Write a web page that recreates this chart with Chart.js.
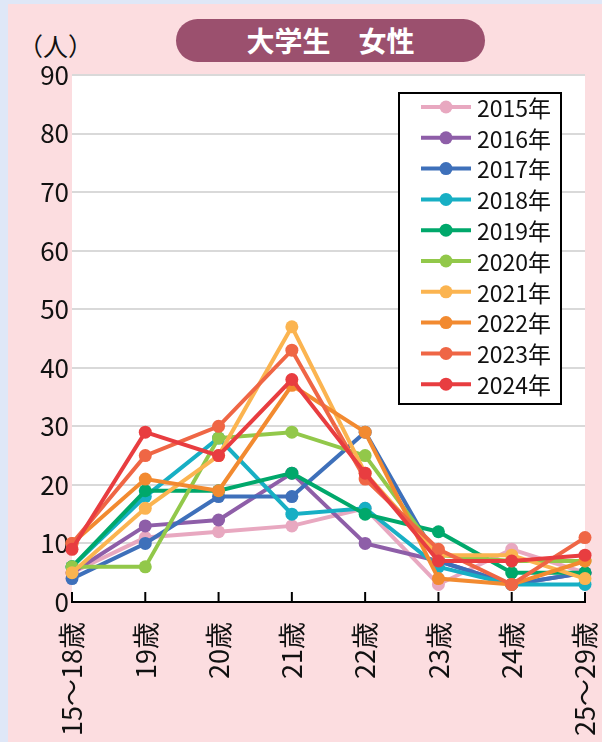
<!DOCTYPE html>
<html>
<head>
<meta charset="utf-8">
<script src="https://cdn.jsdelivr.net/npm/chart.js@4.4.1/dist/chart.umd.min.js"></script>
<style>
  html, body { margin: 0; padding: 0; background: #dfe7f7; }
  #panel { position: absolute; left: 8px; top: 4px; width: 594px; height: 738px; background: #fcdde0; }
  #title { position: absolute; left: 176px; top: 19px; width: 309px; height: 43px; border-radius: 22px;
           background: #9b506e; color: #fff; font: bold 28px "Noto Sans CJK JP", sans-serif;
           text-align: center; line-height: 43px; }
  #unit { position: absolute; left: 18px; top: 27px; font: 25px "Noto Sans CJK JP", sans-serif; color: #111; }
  canvas { position: absolute; left: 0; top: 0; }
</style>
</head>
<body>
<div id="panel"></div>
<div id="title">大学生　女性</div>
<div id="unit">（人）</div>
<canvas id="chart" width="602" height="742"></canvas>
<script>
// Categories and series (人)
const ages = ['15～18歳', '19歳', '20歳', '21歳', '22歳', '23歳', '24歳', '25～29歳'];
const yearLabels = ['2015年', '2016年', '2017年', '2018年', '2019年', '2020年', '2021年', '2022年', '2023年', '2024年'];
const y2015 = [5, 11, 12, 13, 16, 3, 9, 5];
const y2016 = [5, 13, 14, 22, 10, 7, 3, 5];
const y2017 = [4, 10, 18, 18, 29, 7, 3, 5];
const y2018 = [6, 18, 28, 15, 16, 6, 3, 3];
const y2019 = [6, 19, 19, 22, 15, 12, 5, 5];
const y2020 = [6, 6, 28, 29, 25, 8, 7, 7];
const y2021 = [5, 16, 25, 47, 22, 8, 8, 4];
const y2022 = [10, 21, 19, 37, 29, 4, 3, 7];
const y2023 = [10, 25, 30, 43, 21, 9, 3, 11];
const y2024 = [9, 29, 25, 38, 22, 7, 7, 8];
const yTicks = [0, 10, 20, 30, 40, 50, 60, 70, 80, 90];

const seriesData = [y2015, y2016, y2017, y2018, y2019, y2020, y2021, y2022, y2023, y2024];
const colors = ['#e8a8c0', '#8e5ea8', '#3e70ba', '#17afc4', '#00a86b', '#92c84a', '#fbb450', '#f28a30', '#ef6645', '#e83d40'];
const FONT = '"Noto Sans CJK JP", sans-serif';

// white plot background + inward tick marks on x axis
const plotBack = {
    id: 'plotBack',
    beforeDraw(chart) {
        const { ctx, chartArea: a } = chart;
        ctx.save();
        ctx.fillStyle = '#ffffff';
        ctx.fillRect(a.left, a.top, a.right - a.left, a.bottom - a.top);
        ctx.restore();
    },
    afterDatasetsDraw(chart) {
        const { ctx, chartArea: a, scales } = chart;
        ctx.save();
        ctx.strokeStyle = '#000';
        ctx.lineWidth = 2;
        ages.forEach((_, i) => {
            const x = scales.x.getPixelForTick(i);
            ctx.beginPath();
            ctx.moveTo(x, a.bottom);
            ctx.lineTo(x, a.bottom - 10);
            ctx.stroke();
        });
        ctx.restore();
    }
};

// boxed legend inside the plot
const boxLegend = {
    id: 'boxLegend',
    afterDraw(chart) {
        const { ctx } = chart;
        const left = 399, top = 93, w = 162, h = 311, row = 30.8;
        ctx.save();
        ctx.fillStyle = '#fff';
        ctx.fillRect(left, top, w, h);
        ctx.strokeStyle = '#000';
        ctx.lineWidth = 2;
        ctx.strokeRect(left, top, w, h);
        chart.data.datasets.forEach((ds, i) => {
            const y = top + 14 + row * i;
            ctx.strokeStyle = ds.borderColor;
            ctx.lineWidth = 4;
            ctx.beginPath();
            ctx.moveTo(421, y);
            ctx.lineTo(471, y);
            ctx.stroke();
            ctx.fillStyle = ds.borderColor;
            ctx.beginPath();
            ctx.arc(446, y, 6.5, 0, Math.PI * 2);
            ctx.fill();
            ctx.fillStyle = '#111';
            ctx.font = '23px ' + FONT;
            ctx.textBaseline = 'middle';
            ctx.fillText(ds.label, 477, y + 1);
        });
        ctx.restore();
    }
};

const ctx = document.getElementById('chart').getContext('2d');
new Chart(ctx, {
    type: 'line',
    data: {
        labels: ages,
        datasets: seriesData.map((d, i) => ({
            label: yearLabels[i],
            data: d,
            order: seriesData.length - i, // newest year drawn on top
            borderColor: colors[i],
            backgroundColor: colors[i],
            borderWidth: 4,
            pointRadius: 6.5,
            pointHoverRadius: 6.5,
            pointBorderWidth: 0,
            tension: 0,
            clip: false
        }))
    },
    options: {
        responsive: false,
        animation: false,
        layout: { padding: { top: 75, right: 17, left: 0, bottom: 0 } },
        plugins: {
            legend: { display: false },
            tooltip: { enabled: false }
        },
        scales: {
            x: {
                offset: false,
                grid: { display: false, drawOnChartArea: false, drawTicks: false },
                border: { display: true, color: '#000', width: 2 },
                ticks: {
                    color: '#111',
                    font: { family: FONT, size: 27 },
                    minRotation: 90,
                    maxRotation: 90,
                    padding: 20,
                    autoSkip: false
                },
                afterFit: s => { s.height = 140; s.paddingLeft = 0; s.paddingRight = 0; }
            },
            y: {
                min: 0,
                max: 90,
                afterBuildTicks: s => { s.ticks = yTicks.map(v => ({ value: v })); },
                grid: { color: '#d9d9d9', lineWidth: 2, drawTicks: false },
                border: { display: false },
                ticks: {
                    color: '#111',
                    font: { family: FONT, size: 26 },
                    padding: 3
                },
                afterFit: s => { s.width = 72; s.paddingTop = 0; s.paddingBottom = 0; }
            }
        }
    },
    plugins: [plotBack, boxLegend]
});
</script>
</body>
</html>
